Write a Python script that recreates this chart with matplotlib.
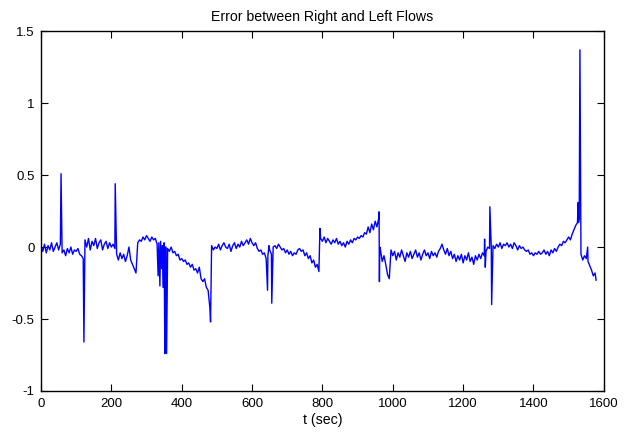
import numpy as np
import matplotlib
matplotlib.use("Agg")
import matplotlib.pyplot as plt

plt.rcParams['font.family'] = ['Liberation Sans', 'DejaVu Sans']
plt.rcParams['axes.unicode_minus'] = False

STEP = 5
base_err = [
    # 0 - 55
    0.01, -0.03, 0.02, -0.04, 0.01, -0.02, 0.03, -0.03, 0.00, 0.03, -0.02, 0.02,
    # 60 - 120
    -0.04, -0.02, -0.06, -0.01, -0.04, 0.00, -0.05, -0.02, -0.03, -0.01, -0.05, -0.06, -0.08,
    # 125 - 210
    0.05, 0.00, 0.06, -0.02, 0.04, 0.01, 0.06, -0.01, 0.03, 0.05, -0.02, 0.02, 0.04, -0.01,
    0.03, 0.00, 0.02, -0.01,
    # 215 - 270
    -0.05, -0.09, -0.04, -0.08, -0.05, -0.10, -0.06, 0.00, -0.09, -0.12, -0.15, -0.18,
    # 275 - 355
    0.03, 0.05, 0.04, 0.07, 0.05, 0.08, 0.06, 0.04, 0.07, 0.05, 0.06, 0.02, 0.03, 0.04,
    0.01, 0.03, 0.00,
    # 360 - 480
    -0.01, -0.03, 0.00, -0.04, -0.03, -0.06, -0.05, -0.09, -0.08, -0.10, -0.09, -0.12,
    -0.11, -0.14, -0.12, -0.16, -0.15, -0.18, -0.14, -0.22, -0.24, -0.22, -0.28, -0.30, -0.42,
    # 485 - 640
    0.01, -0.02, 0.00, -0.01, 0.02, -0.02, 0.01, 0.03, 0.00, -0.01, 0.02, -0.03, 0.01, 0.03,
    -0.01, 0.02, 0.00, 0.04, 0.01, 0.03, 0.05, 0.02, 0.06, 0.03, 0.01, 0.03, -0.01, -0.03,
    -0.02, -0.05, -0.04, -0.08,
    # 645 - 655
    -0.06, -0.02, -0.05,
    # 660 - 790
    0.00, 0.01, -0.01, 0.02, 0.00, -0.02, -0.01, -0.04, -0.02, -0.05, -0.03, -0.06, -0.04,
    -0.05, -0.02, -0.01, -0.03, -0.02, -0.06, -0.04, -0.08, -0.06, -0.11, -0.09, -0.14,
    -0.12, -0.17,
    # 795 - 960
    0.06, 0.04, 0.07, 0.03, 0.06, 0.04, 0.02, 0.05, 0.03, 0.06, 0.02, 0.04, 0.01, 0.03,
    0.00, 0.04, 0.02, 0.05, 0.03, 0.06, 0.05, 0.07, 0.06, 0.08, 0.07, 0.10, 0.09, 0.14,
    0.10, 0.16, 0.12, 0.18, 0.14, 0.20,
    # 965 - 995
    -0.02, -0.10, -0.06, -0.12, -0.19, -0.22, -0.02,
    # 1000 - 1260
    -0.06, -0.03, -0.09, -0.04, -0.07, -0.02, -0.06, -0.10, -0.04, -0.07, -0.03, -0.08,
    -0.05, -0.02, -0.07, -0.04, -0.09, -0.05, -0.02, -0.06, -0.04, -0.08, -0.03, -0.06,
    -0.04, -0.07, -0.03, -0.01, 0.02, -0.02, -0.05, -0.01, -0.06, -0.03, -0.08, -0.05,
    -0.10, -0.06, -0.09, -0.05, -0.11, -0.06, -0.09, -0.04, -0.10, -0.07, -0.12, -0.06,
    -0.09, -0.05, -0.08, -0.04, -0.06,
    # 1265 - 1280
    -0.03, 0.00, -0.01, 0.00,
    # 1285 - 1525
    0.01, -0.01, 0.02, 0.00, 0.03, -0.01, 0.02, 0.01, 0.03, 0.00, 0.02, -0.01, 0.03, 0.01,
    -0.02, 0.01, -0.01, 0.00, -0.02, -0.03, -0.02, -0.05, -0.04, -0.06, -0.04, -0.05,
    -0.03, -0.05, -0.04, -0.02, -0.05, -0.03, -0.06, -0.02, -0.04, -0.01, -0.03, 0.00,
    0.02, 0.01, 0.04, 0.03, 0.05, 0.07, 0.05, 0.09, 0.12, 0.15, 0.17,
    # 1530 - 1575
    0.20, -0.05, -0.09, -0.06, -0.08, -0.10, -0.13, -0.16, -0.20, -0.18,
]
assert len(base_err) == 316

# single-sample spikes and jumps between the 5 s samples
spike_t = [57, 122, 211, 333, 338, 343, 347, 352, 354, 357, 482, 644, 648, 656, 793,
           961, 962, 963, 1261, 1263, 1276, 1281, 1527, 1528, 1532, 1554, 1578]
spike_err = [0.51, -0.66, 0.44, -0.20, -0.27, -0.15, -0.28, -0.74, 0.00, -0.74, -0.52,
             -0.30, 0.01, -0.39, 0.13, 0.245, -0.24, 0.00, 0.055, -0.14, 0.28, -0.40,
             0.31, 0.17, 1.37, 0.00, -0.23]

xticks = [0, 200, 400, 600, 800, 1000, 1200, 1400, 1600]
yticks = [-1, -0.5, 0, 0.5, 1, 1.5]
ytick_labels = ["-1", "-0.5", "0", "0.5", "1", "1.5"]

t = np.concatenate([np.arange(len(base_err)) * STEP, spike_t]).astype(float)
e = np.concatenate([base_err, spike_err])
order = np.argsort(t, kind="stable")
t, e = t[order], e[order]

fig = plt.figure(figsize=(6.24, 4.33), dpi=100)
ax = fig.add_axes([0.0657, 0.097, 0.902, 0.831])
ax.plot(t, e, color=(0, 0, 1), linewidth=1.0)

ax.set_xlim(0, 1600)
ax.set_ylim(-1, 1.5)
ax.set_xticks(xticks)
ax.set_xticklabels([str(v) for v in xticks])
ax.set_yticks(yticks)
ax.set_yticklabels(ytick_labels)
ax.tick_params(direction="in", top=True, right=True, length=5, width=0.8,
               labelsize=9.5)
ax.tick_params(axis="y", pad=4.5)
ax.tick_params(axis="x", pad=5)
for s in ax.spines.values():
    s.set_linewidth(1.0)

ax.set_title("Error between Right and Left Flows", fontsize=10.2, pad=7)
ax.set_xlabel("t (sec)", fontsize=10.2, labelpad=2)

fig.savefig("out.png", dpi=100)
